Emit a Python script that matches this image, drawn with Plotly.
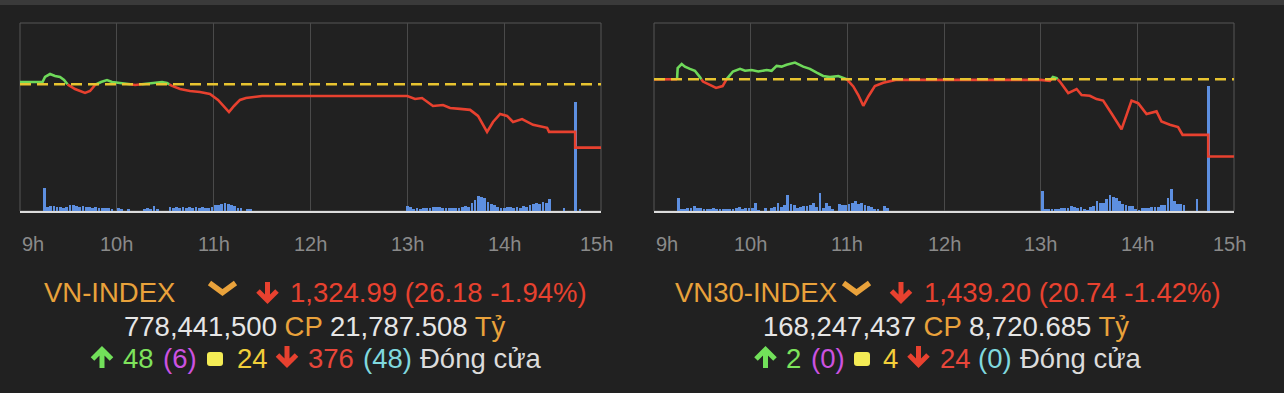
import plotly.graph_objects as go

W, H = 1284, 393
BG = "#212121"
RED = "#e8412f"
GREEN = "#6fd95a"
REF_YELLOW = "#e8c430"
VOL_BLUE = "#5d8fe0"
GRID = "#4a4a4a"
BORDER = "#575757"
ORANGE = "#e9a23b"
WHITE = "#e6e6e6"
TXT = 27.5

hour_labels = ["9h", "10h", "11h", "12h", "13h", "14h", "15h"]
hour_minutes = [0, 60, 120, 180, 240, 300, 360]   # minutes after 9:00

# ---------------- VN-INDEX ----------------
vn_ref = 1351.17
vn_t = [0, 14, 15.5, 18.6, 21.7, 24.8, 27.3, 29.1, 34.1, 40.3,
        43.4, 46.5, 50.2, 53.9, 57, 62, 67, 71.3, 77.5, 83.7,
        88, 91.1, 94.2, 99.2, 105.3, 111.5, 117.7, 122.7, 126.4, 129.5,
        132.6, 136.3, 140, 144.4, 148.7, 150, 240, 244.8, 249.1, 255.9,
        262.1, 266.5, 272.7, 278.9, 283.8, 289.4, 293.1, 297.5, 301.8, 305.5,
        311.1, 317.9, 326.6, 327.8, 330, 344, 344, 360]
vn_v = [1352.1, 1352.1, 1354.2, 1355.4, 1354.6, 1354.2, 1353.0, 1351.3, 1349.2, 1347.6,
        1348.4, 1350.9, 1352.1, 1352.9, 1352.1, 1351.7, 1351.3, 1350.9, 1351.3, 1351.7,
        1352.1, 1351.7, 1350.5, 1349.2, 1348.4, 1348.0, 1347.2, 1344.7, 1341.8, 1339.7,
        1342.2, 1344.7, 1345.5, 1345.9, 1346.3, 1346.3, 1346.3, 1345.1, 1345.5, 1342.2,
        1342.6, 1341.4, 1341.0, 1340.6, 1338.1, 1331.5, 1335.6, 1338.9, 1338.1, 1335.6,
        1336.8, 1334.4, 1333.2, 1331.5, 1331.5, 1331.5, 1324.99, 1324.99]
vn_yrange = [1298.8, 1376.5]
vn_vol_t = list(range(15, 145, 2)) + list(range(240, 330, 2)) + [337, 344, 347]
vn_vol = [23, 4, 5, 5, 4, 4, 3, 4, 6, 6,
          5, 4, 5, 4, 4, 3, 4, 3, 3, 3,
          3, 2, 0, 3, 2, 0, 2, 0, 0, 0,
          0, 2, 3, 2, 5, 2, 0, 0, 0, 4,
          3, 4, 3, 4, 3, 4, 3, 4, 3, 4,
          3, 3, 4, 6, 6, 7, 8, 7, 6, 5,
          3, 3, 0, 2, 2,
          5, 4, 2, 3, 2, 3, 3, 3, 4, 4,
          4, 3, 3, 3, 3, 3, 3, 4, 5, 4,
          8, 11, 15, 14, 13, 9, 7, 6, 4, 3,
          3, 4, 4, 3, 4, 3, 5, 4, 6, 7,
          8, 7, 9, 8, 12,
          3, 109, 2]

# ---------------- VN30-INDEX ----------------
v30_ref = 1459.94
v30_t = [0, 14.3, 14.7, 17.2, 19.2, 22.3, 25.4, 28.5, 30.4, 34.7,
         38.5, 42.6, 45.1, 49, 53.4, 56.5, 60.6, 64.7, 69.9, 73,
         76.1, 79.2, 82.3, 87.5, 92.6, 96.8, 101, 105, 109.2, 114.4,
         119.6, 123.7, 126.8, 129.9, 133, 137.1, 142.3, 148.5, 150, 240,
         245.7, 247.6, 249.9, 251.9, 257.1, 262.3, 265.4, 270.5, 274.7, 278.8,
         284.2, 290.2, 296.4, 300.5, 305.7, 311.9, 315, 320.2, 325.3, 328.1,
         330, 344, 344, 360]
v30_v = [1459.9, 1459.9, 1462.9, 1464.0, 1463.3, 1462.7, 1462.2, 1460.5, 1459.3, 1458.4,
         1457.6, 1458.1, 1459.94, 1462.0, 1462.7, 1462.2, 1462.4, 1462.0, 1462.4, 1462.2,
         1463.5, 1463.3, 1463.8, 1464.4, 1463.3, 1462.7, 1461.7, 1460.8, 1460.5, 1460.8,
         1459.94, 1458.0, 1455.7, 1452.8, 1455.3, 1458.1, 1459.0, 1459.75, 1459.75, 1459.75,
         1459.5, 1460.5, 1460.2, 1459.3, 1456.2, 1457.3, 1455.7, 1455.5, 1454.6, 1454.2,
         1450.6, 1446.5, 1454.2, 1453.5, 1450.6, 1451.3, 1448.6, 1447.7, 1447.1, 1445.0,
         1445.0, 1445.0, 1439.2, 1439.2]
v30_yrange = [1424.6, 1475.0]
v30_vol_t = list(range(15, 147, 2)) + list(range(241, 331, 2)) + [337, 344]
v30_vol = [13, 2, 2, 3, 3, 5, 3, 3, 2, 2,
           2, 3, 2, 2, 2, 2, 2, 2, 3, 4,
           2, 3, 3, 3, 8, 1, 0, 3, 0, 3,
           4, 8, 4, 6, 16, 7, 6, 3, 4, 5,
           5, 6, 8, 4, 18, 3, 8, 5, 2, 0,
           7, 6, 6, 7, 8, 10, 7, 8, 6, 5,
           4, 2, 2, 0, 5, 3,
           20, 2, 2, 2, 2, 2, 3, 3, 3, 5,
           4, 3, 4, 2, 1, 4, 5, 10, 8, 8,
           12, 16, 14, 13, 10, 7, 6, 5, 5, 2,
           1, 3, 3, 3, 4, 4, 4, 6, 6, 13,
           22, 10, 7, 7, 6,
           12, 125]
vol_range = [0, 188]

# ---------------- summary texts ----------------
vn_name, v30_name = "VN-INDEX", "VN30-INDEX"
vn_value, v30_value = "1,324.99 (26.18 -1.94%)", "1,439.20 (20.74 -1.42%)"
vn_shares, v30_shares = "778,441,500", "168,247,437"
vn_amount, v30_amount = "21,787.508", "8,720.685"
vn_counts = ["48", "(6)", "24", "376", "(48)"]
v30_counts = ["2", "(0)", "4", "24", "(0)"]
status_text = "Đóng cửa"


def split(t, v, ref):
    xs, ys = [t[0]], [v[0]]
    for i in range(1, len(t)):
        a, b = v[i - 1] - ref, v[i] - ref
        if a * b < 0:
            xs.append(t[i - 1] + (t[i] - t[i - 1]) * a / (a - b))
            ys.append(ref)
        xs.append(t[i])
        ys.append(v[i])
    up = [y if y >= ref else None for y in ys]
    dn = [y if y <= ref else None for y in ys]
    return xs, up, dn


fig = go.Figure()

panels = [
    dict(t=vn_t, v=vn_v, ref=vn_ref, vt=vn_vol_t, vol=vn_vol, xa="x", ya="y", la="y3"),
    dict(t=v30_t, v=v30_v, ref=v30_ref, vt=v30_vol_t, vol=v30_vol, xa="x2", ya="y2", la="y4"),
]
for p in panels:
    fig.add_trace(go.Bar(x=p["vt"], y=p["vol"], width=1.7, marker_color=VOL_BLUE,
                         marker_line_width=0, xaxis=p["xa"], yaxis=p["ya"], showlegend=False))
    xs, up, dn = split(p["t"], p["v"], p["ref"])
    fig.add_trace(go.Scatter(x=xs, y=dn, mode="lines", line=dict(color=RED, width=2.6),
                             xaxis=p["xa"], yaxis=p["la"], showlegend=False, connectgaps=False))
    fig.add_trace(go.Scatter(x=xs, y=up, mode="lines", line=dict(color=GREEN, width=2.6),
                             xaxis=p["xa"], yaxis=p["la"], showlegend=False, connectgaps=False))
    fig.add_trace(go.Scatter(x=[0, 360], y=[p["ref"], p["ref"]], mode="lines",
                             line=dict(color=REF_YELLOW, width=2.6, dash="11px,6px"),
                             xaxis=p["xa"], yaxis=p["la"], showlegend=False))

ydom = [(H - 211) / H, (H - 23) / H]
xcommon = dict(range=[0, 360], tickvals=hour_minutes, showticklabels=False, ticks="",
               showgrid=True, gridcolor=GRID, gridwidth=1, zeroline=False,
               showline=True, linecolor="#dcdcdc", linewidth=2, fixedrange=True)
ycommon = dict(showgrid=False, showticklabels=False, zeroline=False, showline=False,
               ticks="", fixedrange=True)

fig.update_layout(
    width=W, height=H, margin=dict(l=0, r=0, t=0, b=0),
    paper_bgcolor=BG, plot_bgcolor=BG, bargap=0,
    font=dict(family="Liberation Sans, Arial, sans-serif", size=TXT, color=WHITE),
    xaxis=dict(domain=[20 / W, 601 / W], anchor="y", **xcommon),
    yaxis=dict(domain=ydom, anchor="x", range=vol_range, **ycommon),
    yaxis3=dict(overlaying="y", anchor="x", range=vn_yrange, visible=False),
    xaxis2=dict(domain=[654 / W, 1234 / W], anchor="y2", **xcommon),
    yaxis2=dict(domain=ydom, anchor="x2", range=vol_range, **ycommon),
    yaxis4=dict(overlaying="y2", anchor="x2", range=v30_yrange, visible=False),
)


def P(x, y):
    return f"{x / W:.6f},{(H - y) / H:.6f}"


def arrow(cx, top, bottom, color, down=True, arm=9.5, width=5):
    if down:
        tip = bottom - 3.5
        d = (f"M {P(cx, top)} L {P(cx, tip)} "
             f"M {P(cx - arm, tip - arm)} L {P(cx, tip)} L {P(cx + arm, tip - arm)}")
    else:
        tip = top + 3.5
        d = (f"M {P(cx, bottom)} L {P(cx, tip)} "
             f"M {P(cx - arm, tip + arm)} L {P(cx, tip)} L {P(cx + arm, tip + arm)}")
    return dict(type="path", xref="paper", yref="paper", path=d,
                line=dict(color=color, width=width), layer="above")


def chevron(x0, x1, y0, y1, color):
    d = f"M {P(x0 + 1.5, y0 + 2)} L {P((x0 + x1) / 2, y1 - 3.5)} L {P(x1 - 1.5, y0 + 2)}"
    return dict(type="path", xref="paper", yref="paper", path=d,
                line=dict(color=color, width=5.5), layer="above")


def rounded_square(x0, x1, y0, y1, color, r=3):
    d = (f"M {P(x0 + r, y0)} L {P(x1 - r, y0)} Q {P(x1, y0)} {P(x1, y0 + r)} "
         f"L {P(x1, y1 - r)} Q {P(x1, y1)} {P(x1 - r, y1)} L {P(x0 + r, y1)} "
         f"Q {P(x0, y1)} {P(x0, y1 - r)} L {P(x0, y0 + r)} Q {P(x0, y0)} {P(x0 + r, y0)} Z")
    return dict(type="path", xref="paper", yref="paper", path=d,
                fillcolor=color, line_width=0, layer="above")


shapes = [dict(type="rect", xref="paper", yref="paper", x0=0, x1=1, y0=(H - 5) / H, y1=1,
               fillcolor="#3a3a3a", line_width=0, layer="below")]
for xa, ya in (("x", "y"), ("x2", "y2")):
    shapes.append(dict(type="rect", xref=f"{xa} domain", yref=f"{ya} domain", x0=0, x1=1,
                       y0=0, y1=1, line=dict(color=BORDER, width=1), layer="below"))

ann = []
tick_y = (H - 244) / H
for xa in ("x", "x2"):
    for i, (lab, m) in enumerate(zip(hour_labels, hour_minutes)):
        a = dict(x=m, xref=xa, y=tick_y, yref="paper", text=lab, showarrow=False,
                 font=dict(size=20, color="#8a8a8a"), yanchor="middle", xanchor="center")
        if i == 0:
            a["xanchor"] = "left"
        if i == len(hour_labels) - 1:
            a["xshift"] = -5
        ann.append(a)


def text_at(x, y, txt, color, anchor="left", size=TXT):
    return dict(x=x / W, y=(H - y) / H, xref="paper", yref="paper", text=txt,
                showarrow=False, xanchor=anchor, yanchor="middle",
                font=dict(size=size, color=color))


Y1, Y2, Y3 = 292, 326, 358

# positions (px) of the summary block pieces
blocks = [
    dict(name=vn_name, value=vn_value, shares=vn_shares, amount=vn_amount, counts=vn_counts,
         name_x=42, chev=(208, 237), arrow1=267.5, val_x=288, cx=315,
         up_arrow=102, sq=(207, 223), dn_arrow=287,
         count_x=[120.5, 161, 235, 306, 361], status_x=418),
    dict(name=v30_name, value=v30_value, shares=v30_shares, amount=v30_amount, counts=v30_counts,
         name_x=673, chev=(842, 871), arrow1=901, val_x=922, cx=946,
         up_arrow=765.5, sq=(854, 870), dn_arrow=918.5,
         count_x=[784, 809, 881, 938, 976], status_x=1018),
]
count_colors = ["#7ee35c", "#cc52e0", "#f2cf3a", "#e8463a", "#80d8de"]

for b in blocks:
    ann.append(text_at(b["name_x"], Y1, b["name"], ORANGE))
    shapes.append(chevron(b["chev"][0], b["chev"][1], 281, 296, ORANGE))
    shapes.append(arrow(b["arrow1"], 282, 304, RED, down=True))
    ann.append(text_at(b["val_x"], Y1, b["value"], RED))
    line2 = (f'<span style="color:{WHITE}">{b["shares"]}</span> '
             f'<span style="color:{ORANGE}">CP</span> '
             f'<span style="color:{WHITE}">{b["amount"]}</span> '
             f'<span style="color:{ORANGE}">Tỷ</span>')
    ann.append(text_at(b["cx"], Y2, line2, WHITE, anchor="center"))
    shapes.append(arrow(b["up_arrow"], 346, 368, "#72e05a", down=False))
    shapes.append(rounded_square(b["sq"][0], b["sq"][1], 352, 366, "#f4ec55"))
    shapes.append(arrow(b["dn_arrow"], 346, 368, RED, down=True))
    for txt, x, c in zip(b["counts"], b["count_x"], count_colors):
        ann.append(text_at(x, Y3, txt, c))
    ann.append(text_at(b["status_x"], Y3, status_text, "#dcdcdc"))

fig.update_layout(shapes=shapes, annotations=ann)
fig.write_html("out.html")
